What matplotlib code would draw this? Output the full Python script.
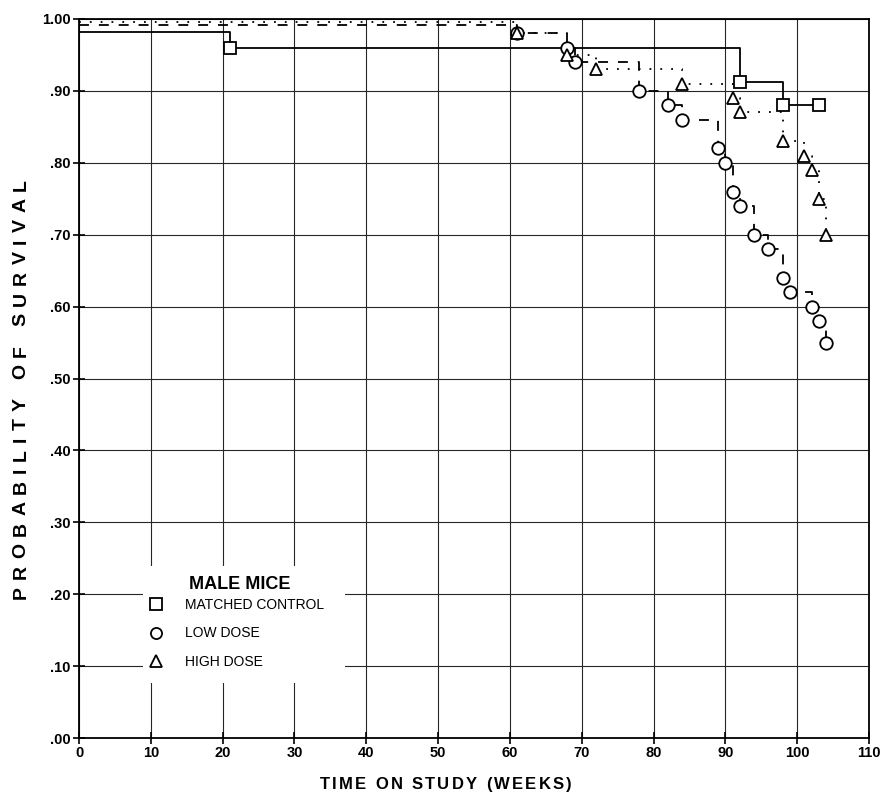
import matplotlib
matplotlib.use('Agg')
import matplotlib.pyplot as plt
from matplotlib.lines import Line2D
from matplotlib.patches import Rectangle

plt.rcParams['font.family'] = ['Liberation Sans', 'DejaVu Sans']

# survival curves (weeks, probability)
weeks_control = [0, 21, 92, 98, 103]
surv_control = [0.982, 0.96, 0.913, 0.88, 0.88]

weeks_low = [0, 61, 68, 69, 78, 82, 84, 89, 90, 91, 92, 94, 96, 98, 99, 102, 103, 104]
surv_low = [0.991, 0.98, 0.96, 0.94, 0.90, 0.88, 0.86, 0.82, 0.80, 0.76, 0.74, 0.70,
            0.68, 0.64, 0.62, 0.60, 0.58, 0.55]

weeks_high = [0, 61, 68, 72, 84, 91, 92, 98, 101, 102, 103, 104]
surv_high = [0.996, 0.98, 0.95, 0.93, 0.91, 0.89, 0.87, 0.83, 0.81, 0.79, 0.75, 0.70]

group_names = ['MATCHED CONTROL', 'LOW DOSE', 'HIGH DOSE']
legend_title = 'MALE MICE'

x_ticks = [0, 10, 20, 30, 40, 50, 60, 70, 80, 90, 100, 110]
y_ticks = [0.0, 0.1, 0.2, 0.3, 0.4, 0.5, 0.6, 0.7, 0.8, 0.9, 1.0]
y_tick_labels = ['.00', '.10', '.20', '.30', '.40', '.50', '.60', '.70', '.80', '.90', '1.00']

x_title = 'TIME ON STUDY (WEEKS)'
y_title = 'PROBABILITY OF SURVIVAL'


def spaced_text(fig, s, xc, yc, span, size, vertical=False):
    # the old typeset labels are letter-spaced, so spread the chars over span pixels
    r = fig.canvas.get_renderer()
    widths = []
    for ch in s:
        t = fig.text(0, 0, ch if ch != ' ' else 'I', fontsize=size, fontweight='bold')
        widths.append(t.get_window_extent(r).width)
        t.remove()
    gap = (span - sum(widths)) / (len(s) - 1)
    W, H = fig.bbox.width, fig.bbox.height
    pos = -span / 2
    for ch, w in zip(s, widths):
        c = pos + w / 2
        if vertical:
            fig.text(xc, yc + c / H, ch, rotation=90, ha='center', va='center',
                     fontsize=size, fontweight='bold')
        else:
            fig.text(xc + c / W, yc, ch, ha='center', va='baseline',
                     fontsize=size, fontweight='bold')
        pos += w + gap


fig = plt.figure(figsize=(8.86, 7.92), dpi=100)
ax = fig.add_axes([79 / 886, 54 / 792, 790 / 886, 719 / 792])

styles = [('-', 's'), ((0, (5.5, 5.5)), 'o'), ((0, (1, 5)), '^')]
data = [(weeks_control, surv_control), (weeks_low, surv_low), (weeks_high, surv_high)]

for (w, s), (ls, mk) in zip(data, styles):
    ax.plot(w, s, drawstyle='steps-post', color='k', ls=ls, lw=1.3, zorder=3)
for (w, s), (ls, mk) in zip(data, styles):
    ax.plot(w[1:], s[1:], ls='none', marker=mk, ms=9, mfc='white', mec='k', mew=1.3, zorder=4)

ax.set_xlim(0, 110)
ax.set_ylim(0, 1.0)
ax.set_xticks(x_ticks, [str(v) for v in x_ticks], fontsize=10.5, fontweight='bold')
ax.set_yticks(y_ticks, y_tick_labels, fontsize=10.5, fontweight='bold')
ax.tick_params(direction='inout', length=8, width=1.2, pad=2, color='k')
ax.grid(True, color='0.15', lw=0.8)
ax.set_axisbelow(True)
for sp in ax.spines.values():
    sp.set_linewidth(1.3)

# white block behind the key, it cuts the grid like in the print
ax.add_patch(Rectangle((0.081, 0.0765), 0.256, 0.1625, transform=ax.transAxes,
                       facecolor='white', edgecolor='none', zorder=1.5))
ax.text(0.204, 0.214, legend_title, transform=ax.transAxes, ha='center', va='center',
        fontsize=13, fontweight='bold', zorder=5)

handles = [Line2D([], [], ls='none', marker=mk, ms=8, mfc='white', mec='k', mew=1.3)
           for ls, mk in styles]
ax.legend(handles, group_names, loc='upper left', bbox_to_anchor=(0.09, 0.195),
          borderaxespad=0, borderpad=0, fontsize=10, handlelength=0.9,
          handletextpad=1.6, labelspacing=1.05, frameon=False,
          prop={'size': 10, 'weight': 'medium'})

spaced_text(fig, x_title, 446 / 886, 3 / 792, 252, 12)
spaced_text(fig, y_title, 21 / 886, 1 - 389 / 792, 420, 14, vertical=True)

fig.savefig('out.png', dpi=100)
